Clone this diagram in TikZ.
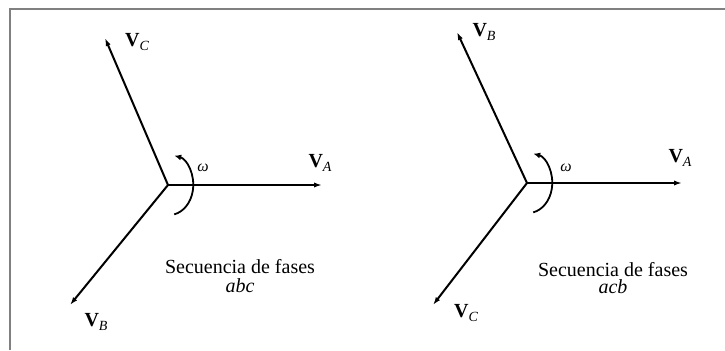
\documentclass[tikz,border=0pt]{standalone}
\usepackage{fontspec}
\setmainfont{Liberation Serif}
\usetikzlibrary{arrows.meta}
\tikzset{
  vec/.style={line width=1pt,-{Latex[length=4pt,width=2.6pt]}},
  rot/.style={line width=0.9pt,{Latex[length=3.5pt,width=3pt]}-},
  frame/.style={gray,line width=0.6pt},
  vlab/.style={inner sep=0pt,font=\normalsize},
  wlab/.style={inner sep=0pt,font=\footnotesize\itshape},
  seq/.style={inner sep=0pt,font=\normalsize,align=center}
}
\newcommand{\vlabel}[1]{\textbf{V}\raisebox{-0.45ex}{\scriptsize\itshape #1}}
\begin{document}
\begin{tikzpicture}[x=0.5pt,y=0.5pt]
\useasboundingbox (0,0) rectangle (725,350);
% frame
\coordinate (f0) at (10,0);
\coordinate (f1) at (10,341);
\coordinate (f2) at (725,341);
\draw[frame] (f0) -- (f1) -- (f2);
% left diagram
\coordinate (oL) at (168,165);
\coordinate (aL) at (322,165);
\coordinate (cL) at (105,312);
\coordinate (bL) at (70,45);
\draw[vec] (oL) -- (aL);
\draw[vec] (oL) -- (cL);
\draw[vec] (oL) -- (bL);
\draw[rot] (oL) ++(78:30) arc[start angle=78,end angle=-78,x radius=12pt,y radius=15pt];
\node[vlab] (lAL) at (320,187) {\vlabel{A}};
\node[vlab] (lCL) at (137,308) {\vlabel{C}};
\node[vlab] (lBL) at (96,28) {\vlabel{B}};
\node[wlab] (wL) at (203,182) {ω};
\node[seq] (sL) at (240,83) {Secuencia de fases};
\node[seq] (qL) at (240,64) {\textit{abc}};
% right diagram
\coordinate (oR) at (527,167);
\coordinate (aR) at (682,167);
\coordinate (bR) at (457,318);
\coordinate (cR) at (433,45);
\draw[vec] (oR) -- (aR);
\draw[vec] (oR) -- (bR);
\draw[vec] (oR) -- (cR);
\draw[rot] (oR) ++(78:30) arc[start angle=78,end angle=-78,x radius=12pt,y radius=15pt];
\node[vlab] (lAR) at (680,192) {\vlabel{A}};
\node[vlab] (lBR) at (484,318) {\vlabel{B}};
\node[vlab] (lCR) at (466,37) {\vlabel{C}};
\node[wlab] (wR) at (566,182) {ω};
\node[seq] (sR) at (613,80) {Secuencia de fases};
\node[seq] (qR) at (613,63) {\textit{acb}};
\end{tikzpicture}
\end{document}
